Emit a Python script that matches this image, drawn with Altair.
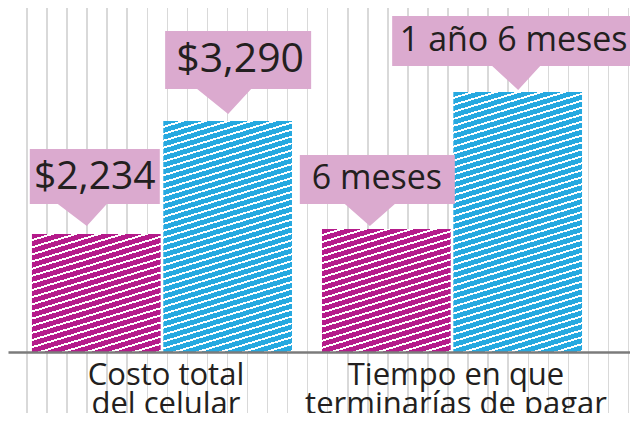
import altair as alt
import pandas as pd

# ---- data ----
grupos = ["Costo total\ndel celular", "Tiempo en que\nterminarías de pagar"]
series = ["contado", "crédito"]
bar_grupo = [grupos[0], grupos[0], grupos[1], grupos[1]]
bar_serie = [series[0], series[1], series[0], series[1]]
alturas = [118, 231, 123, 260]  # drawn bar heights (illustrative, px units)
etiquetas = ["$2,234", "$3,290", "6 meses", "1 año 6 meses"]

df = pd.DataFrame({
    "i": list(range(4)),
    "grupo": bar_grupo,
    "serie": bar_serie,
    "altura": alturas,
    "etiqueta": etiquetas,
})

# ---- styling ----
FONT = "Open Sans"
TXT = "#231f20"
colores = {"contado": "#b51b8b", "crédito": "#27a9e0"}
CALLOUT = "#dbaacf"
BAR_W = 130.0
W, H, BASE = 622, 405, 344

callouts = [
    dict(box=(-66.5, 63.5, -85, -30), ptr=(-38.5, 10.5, -9.5, -8), txt=(-1.5, -57), fs=39),
    dict(box=(-62.5, 83.5, -90, -32), ptr=(-30.5, 23.5, 0.5, -7), txt=(12.5, -61), fs=41),
    dict(box=(-86.5, 68.5, -74, -25), ptr=(-41.5, 8.5, -16.5, -3), txt=(-9.5, -50), fs=34),
    dict(box=(-125.5, 118.5, -76, -26), ptr=(-25.5, 22.5, 0.5, -2), txt=(-4, -51), fs=34),
]


def callout_path(b, p):
    x0, x1, y0, y1 = [round(v / 100, 4) for v in b]
    pl, pr, tx, ty = [round(v / 100, 4) for v in p]
    return (f"M{x0},{y0}L{x1},{y0}L{x1},{y1}L{pr},{y1}L{tx},{ty}"
            f"L{pl},{y1}L{x0},{y1}Z")


def stripes(color, h, w=BAR_W, slope=0.3, period=7.0, duty=0.72):
    a = slope * w / h
    s = (a + 1) / (a * a + 1)
    n = max(1, round(h * (a + 1) / period))
    stops = []
    for k in range(n):
        o0, o1, o2 = k / n, (k + duty) / n, (k + 1) / n
        stops += [
            alt.GradientStop(color=color, offset=round(o0, 5)),
            alt.GradientStop(color=color, offset=round(o1, 5)),
            alt.GradientStop(color="#ffffff", offset=round(o1, 5)),
            alt.GradientStop(color="#ffffff", offset=round(o2, 5)),
        ]
    return alt.LinearGradient(gradient="linear", stops=stops, x1=0, y1=0,
                              x2=round(a * s, 5), y2=round(s, 5))


def paper_lines(first=19.0, step=20.05, n=31, lw=1.5, color="#d9d9d9"):
    stops = [alt.GradientStop(color="#ffffff", offset=0)]
    for k in range(n):
        p = first + step * k
        a, b = (p - lw / 2) / W, (p + lw / 2) / W
        stops += [
            alt.GradientStop(color="#ffffff", offset=round(a, 5)),
            alt.GradientStop(color=color, offset=round(a, 5)),
            alt.GradientStop(color=color, offset=round(b, 5)),
            alt.GradientStop(color="#ffffff", offset=round(b, 5)),
        ]
    stops.append(alt.GradientStop(color="#ffffff", offset=1))
    return alt.LinearGradient(gradient="linear", stops=stops, x1=0, y1=0, x2=1, y2=0)


X = alt.X(
    "grupo:N", sort=grupos,
    scale=alt.Scale(domain=grupos, paddingInner=0.1034, paddingOuter=0.124, align=0.333),
    axis=alt.Axis(
        title=None, orient="bottom", offset=-(H - BASE), domain=True,
        domainColor="#7b7b7b", domainWidth=2.5, ticks=False, zindex=1,
        labelAngle=0, labelFont=FONT, labelFontSize=31, labelColor=TXT,
        labelPadding=32, labelBaseline="alphabetic", labelLineHeight=29,
        labelLimit=500, labelOverlap=False, labelOffset=4,
        labelExpr="split(datum.label, '\\n')",
    ),
)
XO = alt.XOffset("serie:N", sort=series,
                 scale=alt.Scale(domain=series, paddingInner=0.02, paddingOuter=0))
Y = alt.Y("altura:Q", scale=alt.Scale(domain=[-(H - BASE), BASE], nice=False, zero=False),
          axis=None)

base = alt.Chart(df)

paper = base.transform_filter("datum.i == 0").mark_rect(fill=paper_lines(), strokeWidth=0).encode(
    x=alt.value(0), x2=alt.value(W), y=alt.value(0), y2=alt.value(H)
)

layers = [paper]
for i in range(4):
    layers.append(
        base.transform_filter(f"datum.i == {i}")
        .mark_bar(fill=stripes(colores[bar_serie[i]], alturas[i]), strokeWidth=0)
        .encode(x=X, xOffset=XO, y=Y)
    )

paths = [callout_path(c["box"], c["ptr"]) for c in callouts]
boxes = base.mark_point(size=40000, filled=True, fill=CALLOUT, strokeWidth=0, opacity=1).encode(
    x=X, xOffset=XO, y=Y,
    shape=alt.Shape("etiqueta:N", scale=alt.Scale(domain=etiquetas, range=paths), legend=None),
)
layers.append(boxes)

for i in range(4):
    c = callouts[i]
    layers.append(
        base.transform_filter(f"datum.i == {i}")
        .mark_text(font=FONT, fontSize=c["fs"], color=TXT, dx=c["txt"][0], dy=c["txt"][1],
                   baseline="middle", align="center")
        .encode(x=X, xOffset=XO, y=Y, text="etiqueta:N")
    )

chart = alt.layer(*layers).properties(
    width=W, height=H, autosize=alt.AutoSizeParams(type="none"), padding=0,
    background="#ffffff",
).configure_view(stroke=None)

chart.save("out.html", embed_options={"renderer": "svg", "actions": False})
